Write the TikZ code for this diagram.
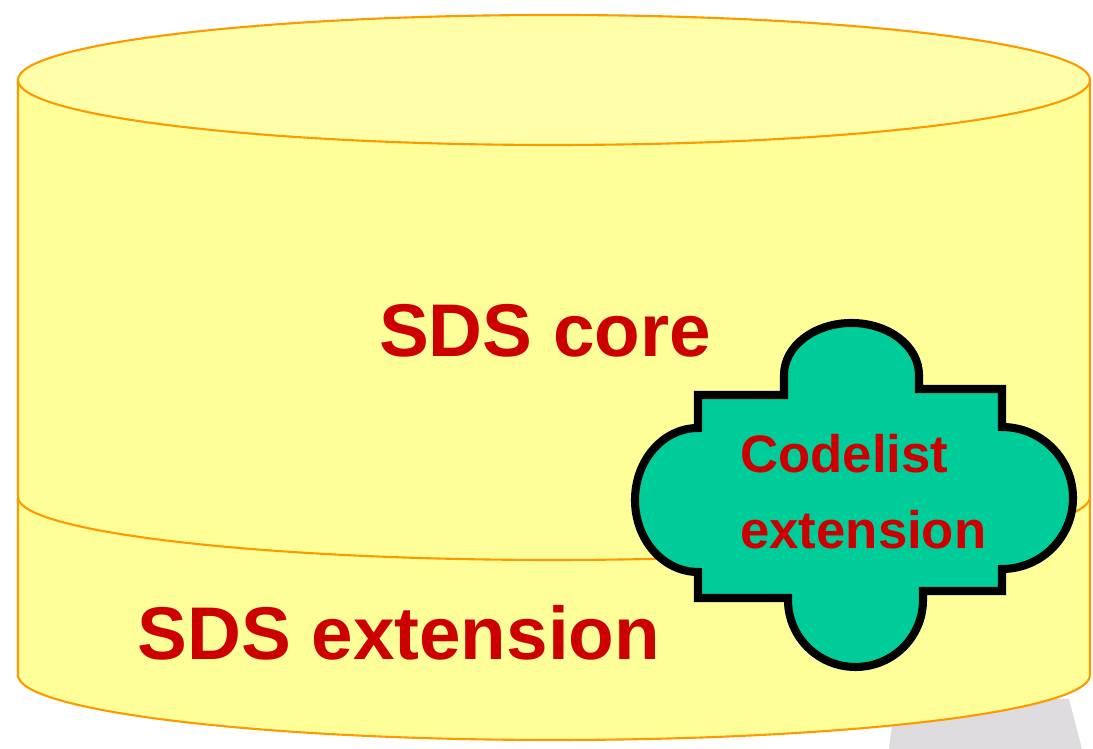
\documentclass[tikz,border=0pt]{standalone}
\usepackage{fontspec}
\setmainfont{Liberation Sans}
\usepackage{xcolor}
\usepackage{tikz}
\usetikzlibrary{positioning}
\definecolor{cylbody}{HTML}{FFFF99}
\definecolor{cyltop}{HTML}{FFFFAA}
\definecolor{cyledge}{HTML}{FF9900}
\definecolor{sdsred}{HTML}{CC0000}
\definecolor{codegreen}{HTML}{00CC99}
\definecolor{backgrey}{HTML}{DEDCDE}

\begin{document}
\begin{tikzpicture}[
                  x=0.02cm, y=0.02cm,
                  cylpart/.style={draw=cyledge, line width=1.2pt, fill=cylbody},
                  cloudbox/.style={draw=black, line width=4.6pt, fill=codegreen, line join=miter},
                  bigtext/.style={
                              text=sdsred, inner sep=0pt, anchor=base,
                              font=\fontsize{42.5}{50}\selectfont\bfseries
                        },
                  smalltext/.style={
                              text=sdsred, inner sep=0pt, anchor=base west,
                              font=\fontsize{30}{36}\selectfont\bfseries
                        },
            ]
            \useasboundingbox (0,0) rectangle (1093,749);

            % grey shape behind
            \fill[backgrey] (889,0) .. controls (891,20) and (894,35) .. (898,50) -- (1069,50) -- (1082,0) -- cycle;

            % Cylinder
            \path[cylpart] (18,669) -- (18,74) arc[start angle=180, end angle=360, x radius=536, y radius=65]
                  -- (1090,669) -- cycle;
            \path[cylpart, fill=cyltop] (554,669) ellipse[x radius=536, y radius=65];
            \draw[cyledge, line width=1.2pt] (18,252) arc[start angle=180, end angle=360, x radius=536, y radius=63];

            \node[bigtext] (core) at (545,392) {SDS core};
            \node[bigtext, anchor=base west] (ext) at (137,89) {SDS extension};

            % Codelist
            \path[cloudbox] (698,354) -- (784,354) -- (784,374)
                  arc[start angle=180, end angle=0, x radius=67.5, y radius=52]
                  -- (919,360) -- (1002,360) -- (1002,322)
                  arc[start angle=90, end angle=-90, x radius=71, y radius=71]
                  -- (1002,158) -- (923,158) -- (923,149)
                  arc[start angle=0, end angle=-180, x radius=67.5, y radius=67]
                  -- (788,151) -- (698,151) -- (698,177)
                  arc[start angle=270, end angle=90, x radius=63, y radius=72]
                  -- cycle;

            \node[smalltext] (codelist) at (740,276) {Codelist};
            \node[smalltext, below=0pt of codelist.base west, anchor=base west, yshift=-76*0.02cm] (codeext) {extension};
      \end{tikzpicture}
\end{document}
